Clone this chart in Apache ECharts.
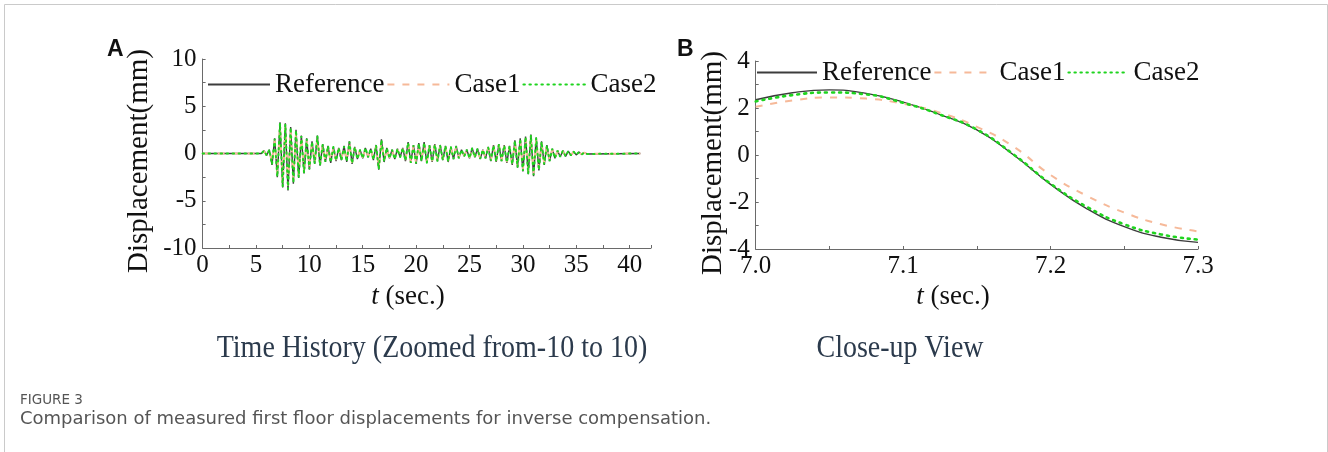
<!DOCTYPE html>
<html>
<head>
<meta charset="utf-8">
<script src="https://cdn.jsdelivr.net/npm/echarts@6/dist/echarts.min.js"></script>
<style>
  html, body { margin: 0; padding: 0; background: #fff; }
  #main { width: 1328px; height: 452px; }
</style>
</head>
<body>
<div id="main"></div>
<script>
// panel A: time history, one peak/trough every 0.25 s starting at tA0
var tA0 = 5.5, dtA = 0.25, tAEnd = 41;
var refA = [
  0, 0.3, -0.2, 0.4, -1.2, 1.6, -2.5, 3.3,
  -3.6, 3.2, -3.9, 2.8, -3.2, 2.5, -2.6, 1.9,
  -2.1, 1.6, -1.7, 1.3, -1.1, 1.9, -1.3, 1.0,
  -0.9, 0.8, -1.0, 0.7, -0.8, 0.6, -0.7, 0.8,
  -0.9, 1.3, -1.1, 0.7, -0.6, 0.4, -0.5, 0.6,
  -0.4, 0.5, -0.7, 0.9, -1.7, 1.5, -0.9, 0.6,
  -0.5, 0.4, -0.6, 0.5, -0.4, 0.6, -0.8, 1.2,
  -1.0, 0.9, -1.1, 1.1, -0.8, 1.2, -1.0, 0.9,
  -0.9, 1.0, -0.8, 0.9, -0.7, 0.8, -0.9, 0.7,
  -0.6, 0.8, -0.5, 0.4, -0.3, 0.4, -0.5, 0.6,
  -0.4, 0.5, -0.6, 0.4, -0.5, 0.7, -0.8, 0.9,
  -0.9, 1.0, -0.8, 0.9, -1.0, 0.8, -1.2, 1.4,
  -1.5, 1.6, -1.9, 1.8, -2.2, 2.0, -2.4, 1.7,
  -1.8, 1.3, -1.2, 0.9, -0.8, 0.5, -0.5, 0.3,
  -0.35, 0.3, -0.3, 0.25, -0.2, 0.2, -0.15, 0.15,
  -0.1, 0.1, -0.05
];
var case1A = [
  0, 0.25, -0.15, 0.35, -1.0, 1.4, -2.2, 2.9,
  -3.2, 2.8, -3.4, 2.5, -2.8, 2.2, -2.3, 1.7,
  -1.8, 1.4, -1.5, 1.1, -1.0, 1.6, -1.1, 0.9,
  -0.8, 0.7, -0.9, 0.6, -0.7, 0.5, -0.6, 0.7,
  -0.8, 1.1, -1.0, 0.6, -0.5, 0.35, -0.45, 0.5,
  -0.35, 0.45, -0.6, 0.8, -1.5, 1.3, -0.8, 0.5,
  -0.45, 0.35, -0.5, 0.45, -0.35, 0.5, -0.7, 1.0,
  -0.9, 0.8, -1.0, 0.95, -0.7, 1.05, -0.9, 0.8,
  -0.8, 0.9, -0.7, 0.8, -0.6, 0.7, -0.8, 0.6,
  -0.5, 0.7, -0.45, 0.35, -0.25, 0.35, -0.45, 0.5,
  -0.35, 0.45, -0.5, 0.35, -0.45, 0.6, -0.7, 0.8,
  -0.8, 0.9, -0.7, 0.8, -0.9, 0.7, -1.05, 1.2,
  -1.3, 1.4, -1.7, 1.6, -1.9, 1.75, -2.1, 1.5,
  -1.6, 1.1, -1.05, 0.8, -0.7, 0.45, -0.45, 0.25,
  -0.3, 0.25, -0.25, 0.2, -0.18, 0.17, -0.13, 0.13,
  -0.08, 0.08, -0.04
];
var case2A = [
  0, 0.3, -0.2, 0.4, -1.15, 1.55, -2.45, 3.2,
  -3.5, 3.1, -3.8, 2.75, -3.1, 2.45, -2.5, 1.85,
  -2.05, 1.55, -1.65, 1.25, -1.05, 1.85, -1.25, 0.95,
  -0.85, 0.8, -0.95, 0.7, -0.75, 0.6, -0.7, 0.75,
  -0.85, 1.25, -1.05, 0.7, -0.6, 0.4, -0.5, 0.6,
  -0.4, 0.5, -0.65, 0.85, -1.65, 1.45, -0.85, 0.6,
  -0.5, 0.4, -0.6, 0.5, -0.4, 0.6, -0.75, 1.15,
  -1.0, 0.85, -1.05, 1.05, -0.8, 1.15, -1.0, 0.85,
  -0.85, 0.95, -0.8, 0.85, -0.7, 0.8, -0.85, 0.7,
  -0.6, 0.75, -0.5, 0.4, -0.3, 0.4, -0.5, 0.55,
  -0.4, 0.5, -0.55, 0.4, -0.5, 0.65, -0.75, 0.85,
  -0.85, 0.95, -0.8, 0.85, -0.95, 0.8, -1.15, 1.35,
  -1.45, 1.55, -1.85, 1.75, -2.15, 1.95, -2.3, 1.65,
  -1.75, 1.25, -1.15, 0.85, -0.8, 0.5, -0.5, 0.3,
  -0.35, 0.3, -0.3, 0.25, -0.2, 0.2, -0.15, 0.15,
  -0.1, 0.1, -0.05
];

// panel B: close-up 7.0 - 7.3 s
var tB = [7.0, 7.025, 7.05, 7.075, 7.1, 7.125, 7.15, 7.175, 7.2, 7.225, 7.25, 7.275, 7.3];
var refB = [2.35, 2.65, 2.77, 2.62, 2.25, 1.72, 1.07, 0.0, -1.25, -2.30, -3.05, -3.50, -3.72];
var case1B = [2.05, 2.32, 2.45, 2.40, 2.18, 1.80, 1.20, 0.35, -0.85, -1.75, -2.45, -2.95, -3.25];
var case2B = [2.28, 2.55, 2.66, 2.58, 2.22, 1.72, 1.08, 0.02, -1.22, -2.22, -2.95, -3.38, -3.60];

var names = ['Reference', 'Case1', 'Case2'];

function seriesA(vals) {
  var d = [[0, 0]];
  vals.forEach(function (v, i) { d.push([tA0 + i * dtA, v]); });
  d.push([tAEnd, 0]);
  return d;
}
function seriesB(vals) {
  return vals.map(function (v, i) { return [tB[i], v]; });
}

var serif = 'Liberation Serif';
var axisCol = '#6a6a6a';
var stylesB = [
  { color: '#3c3c3c', width: 1.4, type: 'solid' },
  { color: '#f6b999', width: 2, type: [7, 8] },
  { color: '#1fd41f', width: 2.6, type: [2, 5], cap: 'round' }
];
var stylesA = [
  { color: '#3c3c3c', width: 1.4, type: 'solid' },
  { color: '#f6b999', width: 2, type: [7, 8] },
  { color: '#1fd41f', width: 2, type: [1.5, 4.5], cap: 'round' }
];

function xAxisCfg(grid, min, max, interval, fmt, showMax) {
  return {
    gridIndex: grid, type: 'value', min: min, max: max, interval: interval,
    axisLine: { show: true, onZero: false, lineStyle: { color: axisCol, width: 1 } },
    axisTick: { show: true, inside: true, length: 3, lineStyle: { color: axisCol } },
    minorTick: { show: true, splitNumber: 2, length: 3, lineStyle: { color: axisCol } },
    splitLine: { show: false },
    axisLabel: { color: '#111', fontFamily: serif, fontSize: 25, margin: 5, formatter: fmt,
      showMinLabel: true, showMaxLabel: showMax }
  };
}
function yAxisCfg(grid, min, max, interval) {
  return {
    gridIndex: grid, type: 'value', min: min, max: max, interval: interval,
    axisLine: { show: true, onZero: false, lineStyle: { color: axisCol, width: 1 } },
    axisTick: { show: true, inside: true, length: 3, lineStyle: { color: axisCol } },
    minorTick: { show: true, splitNumber: 2, length: 3, lineStyle: { color: axisCol } },
    splitLine: { show: false },
    axisLabel: { color: '#111', fontFamily: serif, fontSize: 25, margin: 6 }
  };
}
function legendCfg(left, top, w) {
  return {
    left: left, top: top, padding: 0, itemWidth: w, itemHeight: 14, itemGap: 2,
    data: names,
    itemStyle: { opacity: 0 },
    textStyle: { color: '#111', fontFamily: serif, fontSize: 27 }
  };
}

var series = [];
[refA, case1A, case2A].forEach(function (vals, k) {
  series.push({ name: names[k], type: 'line', xAxisIndex: 0, yAxisIndex: 0, symbol: 'none',
    data: seriesA(vals), lineStyle: stylesA[k], itemStyle: { color: stylesA[k].color },
    z: 2 + k });
});
[refB, case1B, case2B].forEach(function (vals, k) {
  series.push({ name: names[k], type: 'line', xAxisIndex: 1, yAxisIndex: 1, symbol: 'none',
    smooth: true, data: seriesB(vals), lineStyle: stylesB[k], itemStyle: { color: stylesB[k].color },
    z: 2 + k });
});

function label(x, y, text, size, rot) {
  return { type: 'text', x: x, y: y, rotation: rot || 0,
    style: { text: text, fill: '#111', font: size + 'px "' + serif + '"',
      align: 'center', verticalAlign: 'middle',
      rich: { i: { fontStyle: 'italic', fontFamily: serif, fontSize: size, fill: '#111' } } } };
}

var chart = echarts.init(document.getElementById('main'));
chart.setOption({
  animation: false,
  backgroundColor: '#fff',
  grid: [
    { left: 202.6, top: 59, width: 448.4, height: 189 },
    { left: 755.7, top: 61, width: 442.3, height: 188 }
  ],
  xAxis: [
    xAxisCfg(0, 0, 42, 5, null, false),
    xAxisCfg(1, 7.0, 7.3, 0.1, function (v) { return v.toFixed(1); }, true)
  ],
  yAxis: [
    yAxisCfg(0, -10, 10, 5),
    yAxisCfg(1, -4, 4, 2)
  ],
  legend: [legendCfg(207, 71, 62), legendCfg(756, 59, 60)],
  series: series,
  graphic: [
    { type: 'rect', shape: { x: 4.5, y: 4.5, width: 1323, height: 520 },
      style: { fill: 'none', stroke: '#cacaca', lineWidth: 1 }, silent: true },
    { type: 'text', x: 107, y: 61, style: { text: 'A', font: 'bold 23px "Liberation Sans"', fill: '#111', verticalAlign: 'bottom' } },
    { type: 'text', x: 677, y: 61, style: { text: 'B', font: 'bold 23px "Liberation Sans"', fill: '#111', verticalAlign: 'bottom' } },
    label(139, 161, 'Displacement(mm)', 29, Math.PI / 2),
    label(713, 163, 'Displacement(mm)', 29, Math.PI / 2),
    label(408, 297, '{i|t} (sec.)', 27),
    label(953, 297, '{i|t} (sec.)', 27),
    { type: 'text', x: 432, y: 349, scaleY: 1.15,
      style: { text: 'Time History (Zoomed from-10 to 10)', font: '28px "' + serif + '"', fill: '#2b3a4c', align: 'center', verticalAlign: 'middle' } },
    { type: 'text', x: 900, y: 349, scaleY: 1.15,
      style: { text: 'Close-up View', font: '28px "' + serif + '"', fill: '#2b3a4c', align: 'center', verticalAlign: 'middle' } },
    { type: 'text', x: 20, y: 400, style: { text: 'FIGURE 3', font: '13.5px "DejaVu Sans"', fill: '#555', verticalAlign: 'middle' } },
    { type: 'text', x: 20, y: 419, style: { text: 'Comparison of measured first floor displacements for inverse compensation.', font: '18px "DejaVu Sans"', fill: '#555', verticalAlign: 'middle' } }
  ]
});
</script>
</body>
</html>
